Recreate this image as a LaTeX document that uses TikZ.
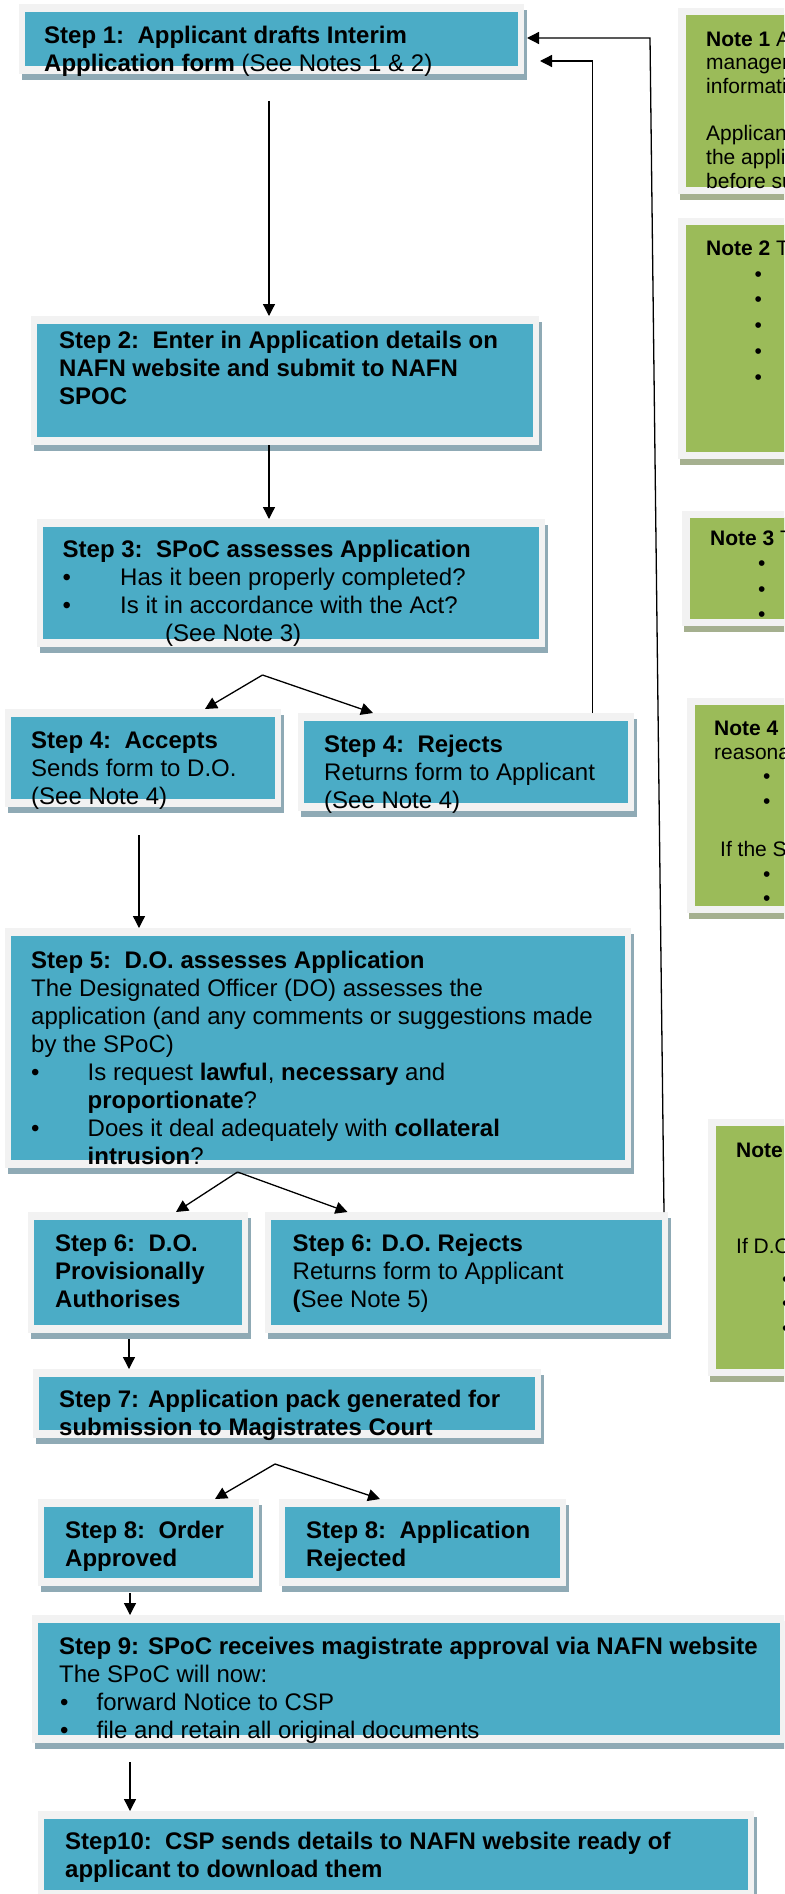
\documentclass[tikz,border=0pt]{standalone}
\usepackage{fontspec}
\setmainfont{Liberation Sans}
\usetikzlibrary{arrows.meta,fit}
\definecolor{stepblue}{HTML}{4BACC6}
\definecolor{noteolive}{HTML}{9BBB59}
\definecolor{framegrey}{HTML}{F2F2F2}
\definecolor{stepshade}{HTML}{8FAAB5}
\definecolor{noteshade}{HTML}{A5B08F}
\newcommand{\bul}[1]{\makebox[#1][l]{\textbullet}}

\begin{document}
\begin{tikzpicture}[x=1pt, y=-1pt,
        framed/.style = {fill=framegrey, inner sep=0pt, outer sep=0pt},
        stepbox/.style = {framed,
            preaction={fill=stepshade, transform canvas={shift={(3pt,-6pt)}}},
            path picture={\fill[stepblue] ([shift={(6pt,8pt)}]path picture bounding box.south west)
                rectangle ([shift={(-6pt,-8pt)}]path picture bounding box.north east);}},
        notebox/.style = {framed,
            preaction={fill=noteshade, transform canvas={shift={(2pt,-6pt)}}},
            path picture={\fill[noteolive] ([shift={(8pt,7pt)}]path picture bounding box.south west)
                rectangle ([shift={(-8pt,-7pt)}]path picture bounding box.north east);}},
        steptext/.style = {anchor=north west, inner sep=0pt, align=left,
            font=\fontsize{24}{28}\selectfont},
        notetext/.style = {anchor=north west, inner sep=0pt, align=left,
            font=\fontsize{21}{24.5}\selectfont},
        arr/.style = {-{Triangle[length=12pt,width=12pt]}, line width=1.3pt}]
    \path[use as bounding box] (0,0) rectangle (784,1894);
    \clip (0,0) rectangle (784,1894);
    \fill[white] (0,0) rectangle (784,1894);

    \node[stepbox, fit={(19,4) (524,74)}] (s1) {};
    \node[stepbox, fit={(31,316) (539,445)}] (s2) {};
    \node[stepbox, fit={(37,519) (545,647)}] (s3) {};
    \node[stepbox, fit={(5,709) (281,807)}] (s4a) {};
    \node[stepbox, fit={(298,713) (634,811)}] (s4r) {};
    \node[stepbox, fit={(5,928) (631,1168)}] (s5) {};
    \node[stepbox, fit={(28,1212) (248,1333)}] (s6p) {};
    \node[stepbox, fit={(265,1212) (668,1333)}] (s6r) {};
    \node[stepbox, fit={(33,1369) (541,1438)}] (s7) {};
    \node[stepbox, fit={(38,1499) (259,1586)}] (s8o) {};
    \node[stepbox, fit={(279,1499) (566,1586)}] (s8r) {};
    \node[stepbox, fit={(32,1615) (786,1743)}] (s9) {};
    \node[stepbox, fit={(38,1811) (754,1898)}] (s10) {};

    \node[notebox, fit={(678,8) (800,194)}] (n1) {};
    \node[notebox, fit={(678,218) (800,459)}] (n2) {};
    \node[notebox, fit={(682,511) (800,626)}] (n3) {};
    \node[notebox, fit={(687,698) (800,913)}] (n4) {};
    \node[notebox, fit={(708,1119) (800,1376)}] (n5) {};

    \node[steptext] (t1) at (44,23.4) {\strut\textbf{Step 1:~~Applicant drafts Interim}\\
        \textbf{Application form} (See Notes 1 \& 2)};
    \node[steptext] (t2) at (59,328.4) {\strut\textbf{Step 2:~~Enter in Application details on}\\
        \textbf{NAFN website and submit to NAFN}\\\textbf{SPOC}};
    \node[steptext] (t3) at (62.5,537.4) {\strut\textbf{Step 3:~~SPoC assesses Application}\\
        \bul{57.5pt}Has it been properly completed?\\
        \bul{57.5pt}Is it in accordance with the Act?\\
        \hspace*{102.5pt}(See Note 3)};
    \node[steptext] (t4a) at (31,728.4) {\strut\textbf{Step 4:~~Accepts}\\Sends form to D.O.\\(See Note 4)};
    \node[steptext] (t4r) at (324,732.4) {\strut\textbf{Step 4:~~Rejects}\\Returns form to Applicant\\(See Note 4)};
    \node[steptext] (t5) at (31,948.4) {\strut\textbf{Step 5:~~D.O. assesses Application}\\
        The Designated Officer (DO) assesses the\\
        application (and any comments or suggestions made\\
        by the SPoC)\\
        \bul{56.5pt}Is request \textbf{lawful}, \textbf{necessary} and\\
        \hspace*{56.5pt}\textbf{proportionate}?\\
        \bul{56.5pt}Does it deal adequately with \textbf{collateral}\\
        \hspace*{56.5pt}\textbf{intrusion}?};
    \node[steptext] (t6p) at (55,1231.4) {\strut\textbf{Step 6:~~D.O.}\\\textbf{Provisionally}\\\textbf{Authorises}};
    \node[steptext] (t6r) at (292.5,1231.4) {\strut\textbf{Step 6: D.O. Rejects}\\
        Returns form to Applicant\\\textbf{(}See Note 5)};
    \node[steptext] (t7) at (59,1387.4) {\strut\textbf{Step 7: Application pack generated for}\\
        \textbf{submission to Magistrates Court}};
    \node[steptext] (t8o) at (65,1518.4) {\strut\textbf{Step 8:~~Order}\\\textbf{Approved}};
    \node[steptext] (t8r) at (306,1518.4) {\strut\textbf{Step 8:~~Application}\\\textbf{Rejected}};
    \node[steptext] (t9) at (59,1634.4) {\strut\textbf{Step 9: SPoC receives magistrate approval via NAFN website}\\
        The SPoC will now:\\
        \hspace*{1pt}\bul{36.5pt}forward Notice to CSP\\
        \hspace*{1pt}\bul{36.5pt}file and retain all original documents};
    \node[steptext] (t10) at (65,1829.4) {\strut\textbf{Step10:~~CSP sends details to NAFN website ready of}\\
        \textbf{applicant to download them}};

    \node[notetext, font=\fontsize{21}{23.7}\selectfont] (m1) at (706,29.4) {\strut\textbf{Note 1} A\\managem\\informatio\\[23.7pt]
        Applicant\\the applic\\before su};
    \node[notetext, font=\fontsize{21}{25.8}\selectfont] (m2) at (706,237) {\strut\textbf{Note 2} T\\
        \hspace*{48.5pt}\textbullet\\\hspace*{48.5pt}\textbullet\\\hspace*{48.5pt}\textbullet\\
        \hspace*{48.5pt}\textbullet\\\hspace*{48.5pt}\textbullet};
    \node[notetext, font=\fontsize{21}{25.5}\selectfont] (m3) at (710,527.2) {\strut\textbf{Note 3} T\\
        \hspace*{48pt}\textbullet\\\hspace*{48pt}\textbullet\\\hspace*{48pt}\textbullet};
    \node[notetext, font=\fontsize{21}{24.3}\selectfont] (m4) at (714,718) {\strut\textbf{Note 4}\\reasona\\
        \hspace*{49pt}\textbullet\\\hspace*{49pt}\textbullet\\[24.3pt]
        \hspace*{6pt}If the S\\\hspace*{49pt}\textbullet\\\hspace*{49pt}\textbullet};
    \node[notetext] (m5) at (736,1139.9) {\strut\textbf{Note}\\[72pt]If D.O\\[8pt]
        \hspace*{46pt}\textbullet\\\hspace*{46pt}\textbullet\\\hspace*{46pt}\textbullet};

    \coordinate (d1) at (269,101);
    \draw[arr] (d1) -- (d1 |- s2.north);
    \draw[arr] (s2.south -| d1) -- (s3.north -| d1);
    \coordinate (f3) at (262.5,675);
    \draw[arr] (f3) -- ([xshift=62pt]s4a.north);
    \draw[arr] (f3) -- ([xshift=-93pt]s4r.north);
    \coordinate (d4) at (139,835);
    \draw[arr] (d4) -- (d4 |- s5.north);
    \coordinate (f5) at (237.5,1172);
    \draw[arr] (f5) -- ([xshift=38pt]s6p.north);
    \draw[arr] (f5) -- ([xshift=-119pt]s6r.north);
    \coordinate (d6) at (129,1339);
    \draw[arr] (d6) -- (d6 |- s7.north);
    \coordinate (f7) at (275,1464);
    \draw[arr] (f7) -- ([xshift=66.5pt]s8o.north);
    \draw[arr] (f7) -- ([xshift=-42.5pt]s8r.north);
    \coordinate (d8) at (130,1593);
    \draw[arr] (d8) -- (d8 |- s9.north);
    \coordinate (d9) at (130,1762);
    \draw[arr] (d9) -- (d9 |- s10.north);
    \coordinate (b1) at (540,61);
    \draw[arr] ([xshift=126.5pt]s4r.north) |- (b1);
    \coordinate (k2) at (650,38);
    \coordinate (b2) at (527,38);
    \draw[arr] ([xshift=-4pt]s6r.north east) -- (k2) -- (b2);
\end{tikzpicture}
\end{document}
